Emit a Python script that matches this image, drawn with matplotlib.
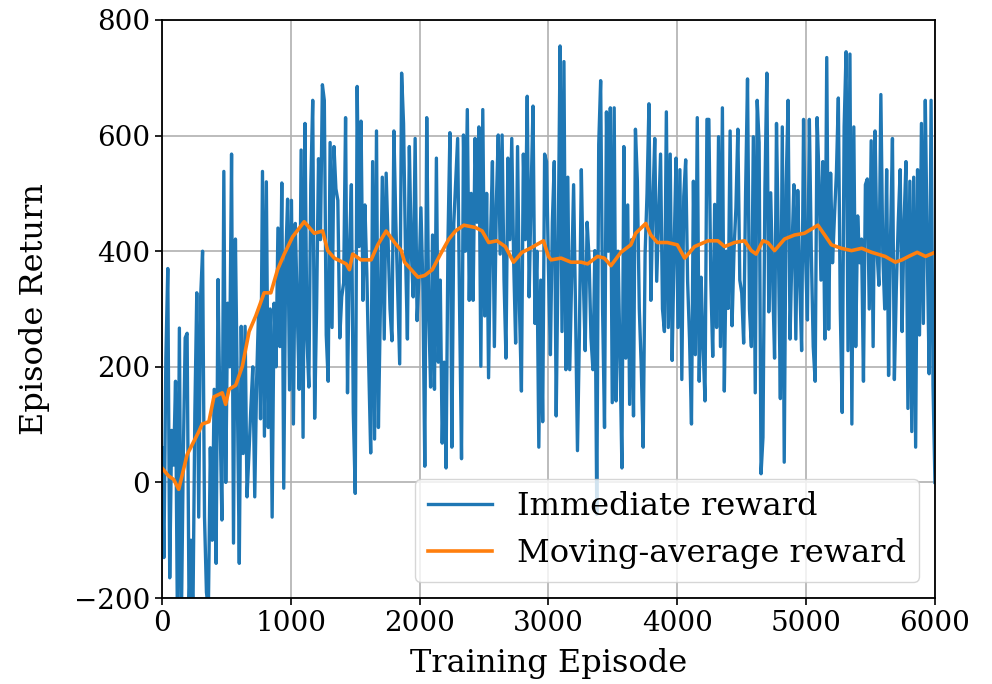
#!/usr/bin/env python3
"""Episode return during training: raw reward + moving average."""

import numpy as np
import matplotlib
matplotlib.use('Agg')
import matplotlib.pyplot as plt

# immediate reward, sampled every 15 episodes (0 .. 6000)
reward = [
    60, -130, 215, 370, -165, 90, 30, 175, -250, 267, -250, 40, 250, 258, -220, -100, -230,
    120, 328, -60, 321, 400, -60, -190, -220, 60, -100, 161, -140, 351, 120, -65, 538, 0,
    310, 200, 568, -105, 421, 150, -140, 270, 50, 270, -25, 50, 130, 200, -25, 180, 300,
    110, 538, 80, 520, 95, 300, -60, 310, 200, 440, 235, 518, -10, 380, 490, 160,
    # 1005 .. 1995
    488, 101, 448, 300, 161, 575, 78, 621, 250, 165, 515, 661, 111, 301, 560, 420, 688,
    661, 255, 175, 588, 268, 581, 508, 488, 250, 321, 345, 631, 155, 400, 515, 121, -19,
    685, 408, 625, 315, 480, 361, 200, 51, 555, 75, 608, 95, 300, 528, 248, 535, 415,
    300, 245, 608, 451, 330, 205, 708, 621, 400, 248, 581, 400, 321, 595, 280, 355,
    # 2010 .. 3000
    475, 340, 28, 631, 300, 165, 428, 161, 561, 208, 350, 68, 208, 25, 420, 605, 61,
    448, 520, 595, 300, 41, 601, 400, 645, 315, 500, 315, 595, 450, 615, 201, 645, 288,
    500, 181, 420, 555, 235, 480, 601, 395, 601, 350, 215, 561, 420, 595, 380, 241, 581,
    300, 158, 568, 420, 668, 321, 500, 651, 275, 400, 61, 350, 105, 568, 555, 368,
    # 3015 .. 3990
    221, 450, 555, 115, 400, 755, 261, 728, 195, 528, 195, 355, 515, 300, 55, 255, 541,
    355, 228, 450, 388, 250, 195, 401, -55, 585, 695, 300, 95, 641, 400, 648, 138, 648,
    141, 400, 221, 25, 581, 215, 480, 135, 420, 115, 611, 521, 300, 201, 61, 395, 500,
    655, 315, 480, 595, 348, 460, 568, 300, 261, 641, 268, 568, 211, 400, 561,
    # 4005 .. 4995
    268, 541, 178, 495, 558, 348, 248, 101, 521, 221, 631, 175, 355, 235, 141, 628, 628,
    350, 218, 481, 268, 598, 235, 648, 158, 400, 301, 608, 271, 400, 475, 611, 350, 328,
    241, 500, 698, 300, 235, 598, 155, 661, 588, 15, 78, 508, 708, 295, 501, 350, 215,
    621, 400, 145, 615, 35, 515, 661, 248, 400, 515, 248, 505, 350, 228, 628, 395,
    # 5010 .. 6000
    281, 628, 400, 235, 175, 631, 528, 350, 555, 248, 735, 265, 535, 380, 461, 535, 665,
    300, 121, 615, 745, 228, 741, 101, 615, 235, 461, 380, 421, 175, 515, 525, 300, 591,
    235, 608, 400, 341, 671, 395, 300, 541, 185, 420, 595, 178, 335, 450, 541, 261, 450,
    555, 128, 521, 88, 528, 61, 541, 255, 621, 275, 661, 401, 188, 661, 168, 0,
]
episodes = np.linspace(0, 6000, len(reward))

# moving average, read at its turning points
ma_ep = [0, 52, 91, 130, 195, 286, 312, 364, 403, 468, 494, 520, 572, 624, 676, 728, 793,
         845, 897, 949, 1014, 1104, 1182, 1247, 1286, 1338, 1430, 1455, 1480, 1545, 1623,
         1675, 1740, 1805, 1857, 1883, 1935, 1987, 2039, 2098, 2162, 2227, 2278, 2343, 2433,
         2485, 2536, 2600, 2665, 2729, 2794, 2858, 2961, 3000, 3021, 3098, 3175, 3253, 3304,
         3381, 3433, 3485, 3562, 3639, 3677, 3755, 3794, 3845, 3923, 4000, 4057, 4134, 4238,
         4315, 4367, 4444, 4522, 4574, 4612, 4664, 4703, 4755, 4832, 4910, 4987, 5039, 5091,
         5144, 5196, 5274, 5352, 5431, 5509, 5613, 5692, 5744, 5796, 5862, 5927, 6000]
ma_val = [25, 11, 5, -12, 48, 88, 101, 105, 148, 155, 135, 161, 168, 201, 261, 288, 328,
          328, 368, 395, 425, 451, 431, 435, 401, 388, 378, 368, 395, 385, 385,
          411, 435, 415, 401, 381, 368, 355, 358, 368, 395, 421, 435, 445, 441,
          435, 415, 418, 408, 381, 398, 405, 418, 391, 385, 388, 381, 381, 378,
          391, 388, 375, 398, 411, 431, 448, 428, 415, 415, 411, 388, 408, 418,
          418, 408, 415, 418, 401, 395, 418, 415, 401, 421, 428, 431, 438, 445,
          428, 411, 405, 401, 405, 398, 391, 381, 385, 391, 398, 391, 398]

TICK_SZ = 20
LABEL_SZ = 23
plt.rcParams['font.family'] = ['DejaVu Serif']

fig = plt.figure(figsize=(9.92, 6.84), dpi=100)
ax = fig.add_axes([0.1633, 0.1257, 0.7792, 0.8451])

ax.plot(episodes, reward, color='#1f77b4', lw=2.4, label='Immediate reward')
ax.plot(ma_ep, ma_val, color='#ff7f0e', lw=2.6, label='Moving-average reward')

ax.set_xlim(0, 6000)
ax.set_ylim(-200, 800)
ax.set_xticks([0, 1000, 2000, 3000, 4000, 5000, 6000])
ax.set_yticks([-200, 0, 200, 400, 600, 800])
ax.tick_params(axis='both', labelsize=TICK_SZ, length=5, width=1.2)
for s in ax.spines.values():
    s.set_linewidth(1.3)
ax.grid(True, color='#b0b0b0', lw=1.2)
ax.set_axisbelow(True)

ax.set_xlabel('Training Episode', fontsize=LABEL_SZ, labelpad=8)
ax.set_ylabel('Episode Return', fontsize=LABEL_SZ, labelpad=17)

ax.legend(loc='lower right', fontsize=LABEL_SZ, borderaxespad=0.5)

fig.savefig('out.png', dpi=100, facecolor='white')
plt.close()
